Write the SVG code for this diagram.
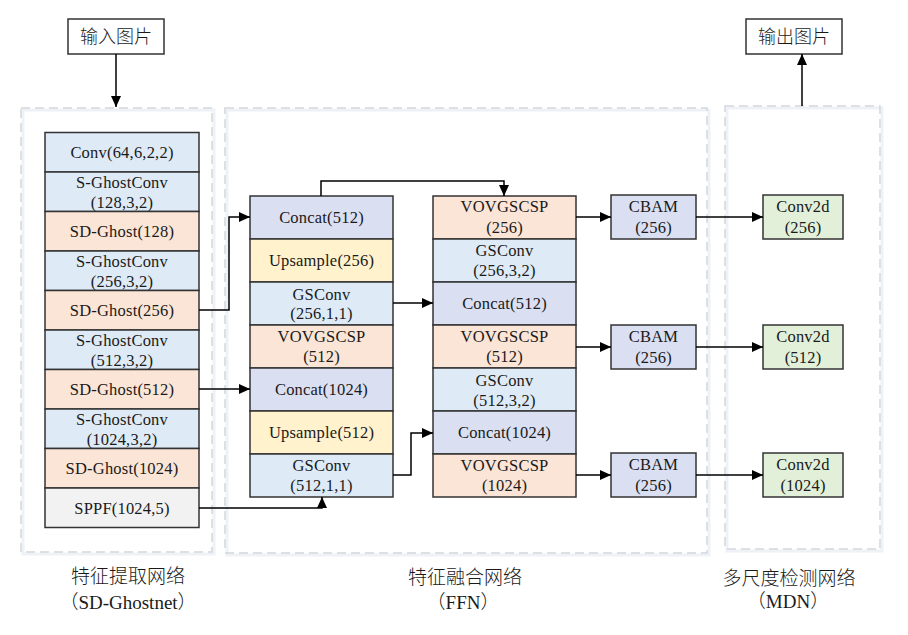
<svg xmlns="http://www.w3.org/2000/svg" width="908" height="635" viewBox="0 0 908 635">
<defs>
<marker id="arr" markerUnits="userSpaceOnUse" markerWidth="12" markerHeight="12" refX="11" refY="6" orient="auto">
<path d="M0,1 L11,6 L0,11 Z" fill="#000"/>
</marker>
<style>
.t{font-family:"Liberation Serif","Times New Roman",serif;font-size:16.5px;letter-spacing:0.2px;fill:#1a1a1a;text-anchor:middle}
.c{font-family:"Noto Sans CJK SC","Noto Sans",sans-serif;font-size:18px;font-weight:300;fill:#1a1a1a;text-anchor:middle}
.lbl{font-family:"Liberation Serif","Noto Sans CJK SC",serif;font-size:19px;font-weight:300;fill:#1a1a1a;text-anchor:middle}
.b{stroke:#333;stroke-width:1.5}
.blue{fill:#DEEBF7}
.peach{fill:#FBE5D6}
.lav{fill:#DADFF2}
.yel{fill:#FFF2CC}
.grn{fill:#E2F0D9}
.gry{fill:#F2F2F2}
.dash{fill:none;stroke:#D3D7DC;stroke-width:1.5;stroke-dasharray:9 5}
.shadow{fill:none;stroke:#EEF1F5;stroke-width:3}
.ln{fill:none;stroke:#000;stroke-width:1.5}
</style>
</defs>
<rect width="908" height="635" fill="#fff"/>

<g id="containers">
<rect class="shadow" x="23" y="110" width="191" height="444"/>
<rect class="shadow" x="227" y="110" width="482" height="445"/>
<rect class="shadow" x="727" y="108" width="155" height="443"/>
<rect class="dash" x="21" y="108" width="191" height="444"/>
<rect class="dash" x="225" y="108" width="482" height="445"/>
<rect class="dash" x="725" y="106" width="155" height="443"/>
</g>

<g id="input">
<rect x="68" y="19" width="96" height="35" fill="#fff" class="b"/>
<text class="c" x="116" y="43">输入图片</text>
</g>
<g id="output">
<rect x="746" y="19" width="96" height="35" fill="#fff" class="b"/>
<text class="c" x="794" y="43">输出图片</text>
</g>

<g id="backbone">
<g id="n-conv"><rect class="b blue" x="45" y="132.5" width="154" height="39.5"/><text class="t" x="122" y="158">Conv(64,6,2,2)</text></g>
<g id="n-sgc128"><rect class="b blue" x="45" y="172" width="154" height="39.5"/><text class="t" x="122" y="188">S-GhostConv</text><text class="t" x="122" y="208">(128,3,2)</text></g>
<g id="n-sdg128"><rect class="b peach" x="45" y="211.5" width="154" height="39.5"/><text class="t" x="122" y="237">SD-Ghost(128)</text></g>
<g id="n-sgc256"><rect class="b blue" x="45" y="251" width="154" height="39.5"/><text class="t" x="122" y="267">S-GhostConv</text><text class="t" x="122" y="287">(256,3,2)</text></g>
<g id="n-sdg256"><rect class="b peach" x="45" y="290.5" width="154" height="39.5"/><text class="t" x="122" y="316">SD-Ghost(256)</text></g>
<g id="n-sgc512"><rect class="b blue" x="45" y="330" width="154" height="39.5"/><text class="t" x="122" y="346">S-GhostConv</text><text class="t" x="122" y="366">(512,3,2)</text></g>
<g id="n-sdg512"><rect class="b peach" x="45" y="369.5" width="154" height="39.5"/><text class="t" x="122" y="395">SD-Ghost(512)</text></g>
<g id="n-sgc1024"><rect class="b blue" x="45" y="409" width="154" height="39.5"/><text class="t" x="122" y="425">S-GhostConv</text><text class="t" x="122" y="445">(1024,3,2)</text></g>
<g id="n-sdg1024"><rect class="b peach" x="45" y="448.5" width="154" height="39.5"/><text class="t" x="122" y="474">SD-Ghost(1024)</text></g>
<g id="n-sppf"><rect class="b gry" x="45" y="488" width="154" height="39.5"/><text class="t" x="122" y="513.5">SPPF(1024,5)</text></g>
</g>

<g id="neck-a">
<g id="n-cat512a"><rect class="b lav" x="250" y="196" width="143" height="43"/><text class="t" x="321.5" y="223">Concat(512)</text></g>
<g id="n-up256"><rect class="b yel" x="250" y="239" width="143" height="43"/><text class="t" x="321.5" y="266">Upsample(256)</text></g>
<g id="n-gs256"><rect class="b blue" x="250" y="282" width="143" height="43"/><text class="t" x="321.5" y="299.5">GSConv</text><text class="t" x="321.5" y="318.5">(256,1,1)</text></g>
<g id="n-vov512a"><rect class="b peach" x="250" y="325" width="143" height="43"/><text class="t" x="321.5" y="342">VOVGSCSP</text><text class="t" x="321.5" y="362">(512)</text></g>
<g id="n-cat1024a"><rect class="b lav" x="250" y="368" width="143" height="43"/><text class="t" x="321.5" y="395">Concat(1024)</text></g>
<g id="n-up512"><rect class="b yel" x="250" y="411" width="143" height="43"/><text class="t" x="321.5" y="438">Upsample(512)</text></g>
<g id="n-gs512"><rect class="b blue" x="250" y="454" width="143" height="43"/><text class="t" x="321.5" y="471">GSConv</text><text class="t" x="321.5" y="490.5">(512,1,1)</text></g>
</g>

<g id="neck-b">
<g id="n-vov256"><rect class="b peach" x="433" y="196" width="143" height="43"/><text class="t" x="504.5" y="212">VOVGSCSP</text><text class="t" x="504.5" y="233">(256)</text></g>
<g id="n-gs256b"><rect class="b blue" x="433" y="239" width="143" height="43"/><text class="t" x="504.5" y="255.5">GSConv</text><text class="t" x="504.5" y="275.5">(256,3,2)</text></g>
<g id="n-cat512b"><rect class="b lav" x="433" y="282" width="143" height="43"/><text class="t" x="504.5" y="309">Concat(512)</text></g>
<g id="n-vov512b"><rect class="b peach" x="433" y="325" width="143" height="43"/><text class="t" x="504.5" y="342">VOVGSCSP</text><text class="t" x="504.5" y="362">(512)</text></g>
<g id="n-gs512b"><rect class="b blue" x="433" y="368" width="143" height="43"/><text class="t" x="504.5" y="386">GSConv</text><text class="t" x="504.5" y="406">(512,3,2)</text></g>
<g id="n-cat1024b"><rect class="b lav" x="433" y="411" width="143" height="43"/><text class="t" x="504.5" y="438">Concat(1024)</text></g>
<g id="n-vov1024"><rect class="b peach" x="433" y="454" width="143" height="43"/><text class="t" x="504.5" y="471">VOVGSCSP</text><text class="t" x="504.5" y="491">(1024)</text></g>
</g>

<g id="attention">
<g id="n-cbam1"><rect class="b lav" x="611" y="195" width="85" height="44"/><text class="t" x="653.5" y="212">CBAM</text><text class="t" x="653.5" y="233">(256)</text></g>
<g id="n-cbam2"><rect class="b lav" x="611" y="325" width="85" height="44"/><text class="t" x="653.5" y="342">CBAM</text><text class="t" x="653.5" y="363">(256)</text></g>
<g id="n-cbam3"><rect class="b lav" x="611" y="453" width="85" height="44"/><text class="t" x="653.5" y="470">CBAM</text><text class="t" x="653.5" y="491">(256)</text></g>
</g>

<g id="head">
<g id="n-c2d256"><rect class="b grn" x="763" y="195" width="80" height="44"/><text class="t" x="803" y="212">Conv2d</text><text class="t" x="803" y="233">(256)</text></g>
<g id="n-c2d512"><rect class="b grn" x="763" y="325" width="80" height="44"/><text class="t" x="803" y="342">Conv2d</text><text class="t" x="803" y="363">(512)</text></g>
<g id="n-c2d1024"><rect class="b grn" x="763" y="453" width="80" height="44"/><text class="t" x="803" y="470">Conv2d</text><text class="t" x="803" y="491">(1024)</text></g>
</g>

<g id="connectors">
<path class="ln" d="M116,54 V107" marker-end="url(#arr)"/>
<path class="ln" d="M802,106 V54" marker-end="url(#arr)"/>
<path class="ln" d="M199,310 H229 V217 H250" marker-end="url(#arr)"/>
<path class="ln" d="M199,389 H250" marker-end="url(#arr)"/>
<path class="ln" d="M199,508 H322 V497" marker-end="url(#arr)"/>
<path class="ln" d="M321,196 V181 H504 V196" marker-end="url(#arr)"/>
<path class="ln" d="M393,303 H433" marker-end="url(#arr)"/>
<path class="ln" d="M393,475 H411 V433 H433" marker-end="url(#arr)"/>
<path class="ln" d="M576,217 H611" marker-end="url(#arr)"/>
<path class="ln" d="M576,347 H611" marker-end="url(#arr)"/>
<path class="ln" d="M576,475 H611" marker-end="url(#arr)"/>
<path class="ln" d="M696,217 H763" marker-end="url(#arr)"/>
<path class="ln" d="M696,347 H763" marker-end="url(#arr)"/>
<path class="ln" d="M696,475 H763" marker-end="url(#arr)"/>
</g>

<g id="labels">
<text class="lbl" x="128" y="583">特征提取网络</text>
<text class="lbl" x="128" y="609">（SD-Ghostnet）</text>
<text class="lbl" x="465" y="584">特征融合网络</text>
<text class="lbl" x="463" y="609">（FFN）</text>
<text class="lbl" x="789" y="585">多尺度检测网络</text>
<text class="lbl" x="788" y="608">（MDN）</text>
</g>
</svg>
